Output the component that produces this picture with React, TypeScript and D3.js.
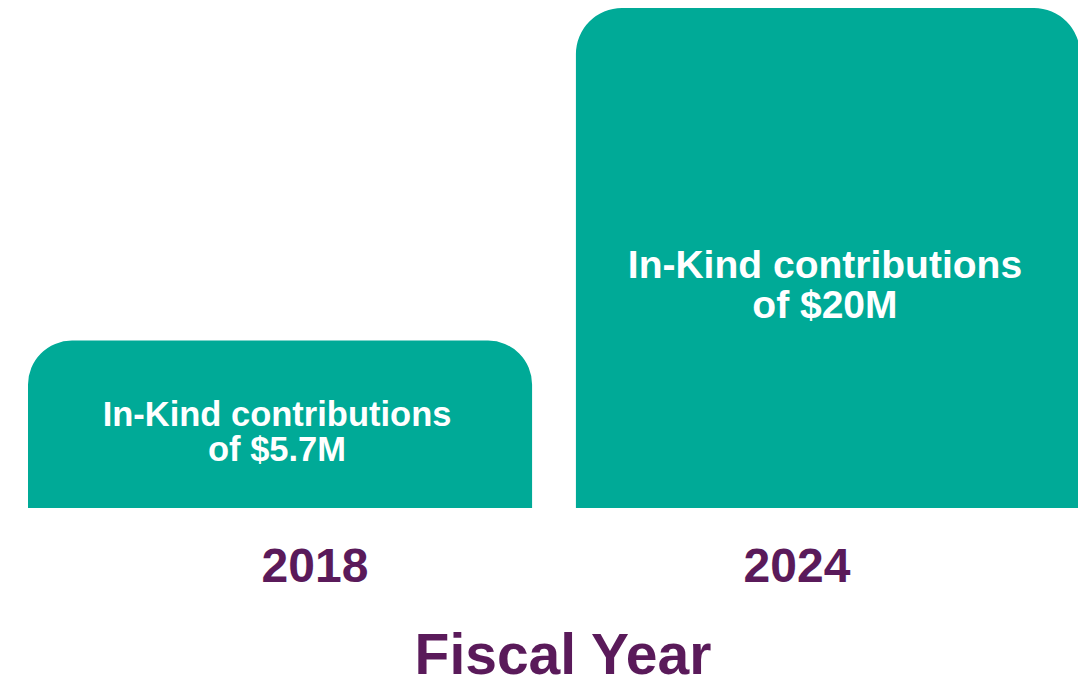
import * as d3 from "d3";
import React from "react";

const WIDTH = 1078;
const HEIGHT = 687;

// data
const years = ["2018", "2024"];
const values = [5.7, 20];
const labelLines = [
    ["In-Kind contributions", "of $5.7M"],
    ["In-Kind contributions", "of $20M"],
];
const axisTitle = "Fiscal Year";

const TEAL = "#00aa97";
const PURPLE = "#5a1a5a";
const FONT = "'Liberation Sans', Arial, sans-serif";

const BASELINE = 508;

// rect with only the top corners rounded
const topRounded = (x: number, y: number, w: number, h: number, r: number) => {
    const rr = Math.min(r, w / 2, h);
    const p = d3.path();
    p.moveTo(x, y + h);
    p.lineTo(x, y + rr);
    p.arcTo(x, y, x + rr, y, rr);
    p.lineTo(x + w - rr, y);
    p.arcTo(x + w, y, x + w, y + rr, rr);
    p.lineTo(x + w, y + h);
    p.closePath();
    return p.toString();
};

const App: React.FC = () => {
    const xScale = d3
        .scaleBand<string>()
        .domain(years)
        .range([28, 1080])
        .paddingInner(0.08)
        .paddingOuter(0);

    // bars in the source are not drawn from zero, baseline sits a bit below
    const yScale = d3.scaleLinear().domain([-1.5, 20]).range([BASELINE, 8]);

    // year labels sit a little inward from the bar centres
    const yearScale = d3.scalePoint<string>().domain(years).range([315, 797]);

    const bw = xScale.bandwidth();

    return (
        <div style={{ position: "absolute", left: 0, top: 0 }}>
            <svg width={WIDTH} height={HEIGHT} style={{ display: "block" }}>
                <rect width={WIDTH} height={HEIGHT} fill="#ffffff" />
                {years.map((yr, i) => {
                    const x = xScale(yr) || 0;
                    const y = yScale(values[i]);
                    const big = i === 1;
                    const fs = big ? 39 : 34.5;
                    const lineGap = big ? 40 : 35;
                    const firstBase = big ? y + 270 : y + 85;
                    return (
                        <g key={yr}>
                            <path
                                d={topRounded(x, y, bw, BASELINE - y, big ? 46 : 44)}
                                fill={TEAL}
                            />
                            {labelLines[i].map((t, j) => (
                                <text
                                    key={j}
                                    x={x + bw / 2 - 3}
                                    y={firstBase + j * lineGap}
                                    textAnchor="middle"
                                    fill="#ffffff"
                                    fontFamily={FONT}
                                    fontWeight="bold"
                                    fontSize={fs}
                                >
                                    {t}
                                </text>
                            ))}
                            <text
                                x={yearScale(yr)}
                                y={582}
                                textAnchor="middle"
                                fill={PURPLE}
                                fontFamily={FONT}
                                fontWeight="bold"
                                fontSize={48}
                            >
                                {yr}
                            </text>
                        </g>
                    );
                })}
                <text
                    x={563}
                    y={674}
                    textAnchor="middle"
                    fill={PURPLE}
                    fontFamily={FONT}
                    fontWeight="bold"
                    fontSize={57}
                >
                    {axisTitle}
                </text>
            </svg>
        </div>
    );
};

export default App;
